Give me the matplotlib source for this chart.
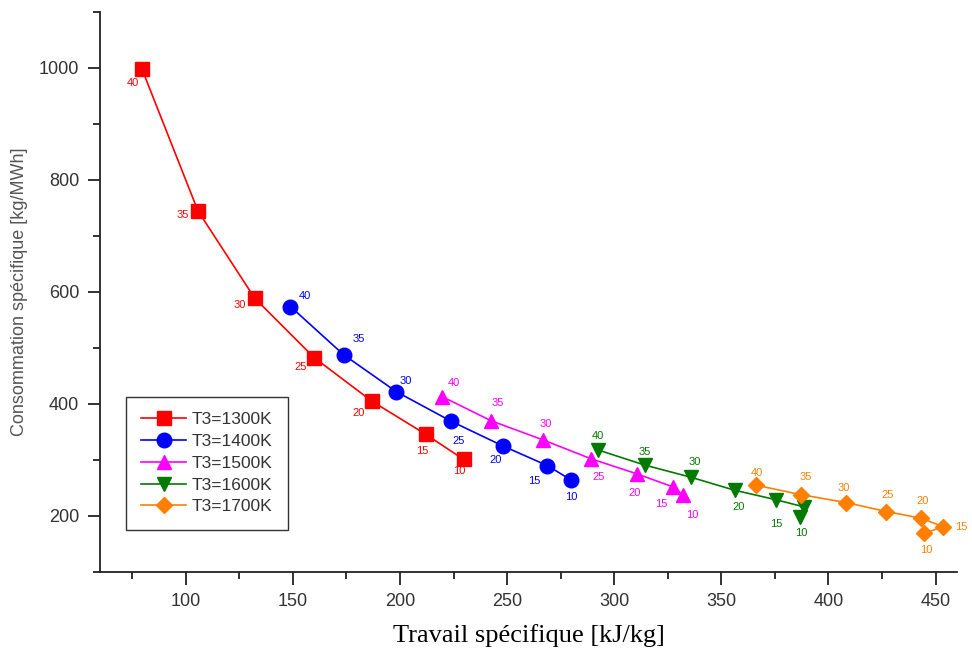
import matplotlib
matplotlib.use('Agg')
import matplotlib.pyplot as plt
from matplotlib.ticker import MultipleLocator

# data (x: kJ/kg, y: kg/MWh)
x_1300 = [79.6, 105.7, 132.2, 159.9, 186.9, 212.0, 229.7]
y_1300 = [998, 745, 589, 483, 405, 346, 301]
lab_1300 = ['40', '35', '30', '25', '20', '15', '10']

x_1400 = [148.9, 173.7, 198.3, 224.0, 248.1, 268.8, 280.0]
y_1400 = [574, 488, 422, 369, 325, 290, 264]
lab_1400 = ['40', '35', '30', '25', '20', '15', '10']

x_1500 = [219.8, 242.6, 266.7, 289.3, 310.8, 327.4, 332.0]
y_1500 = [413, 370, 336, 302, 275, 252, 238]
lab_1500 = ['40', '35', '30', '25', '20', '15', '10']

x_1600 = [292.4, 314.2, 336.0, 356.2, 375.6, 388.8, 386.5]
y_1600 = [318, 291, 269, 246, 229, 216, 199]
lab_1600 = ['40', '35', '30', '20', '15', '', '10']

x_1700 = [366.2, 387.3, 408.3, 427.0, 443.3, 453.4, 444.8]
y_1700 = [255, 238, 224, 208, 196, 181, 169]
lab_1700 = ['40', '35', '30', '25', '20', '15', '10']

# label offsets in pixels (dx right, dy down)
offs_1300 = [(-9, 14), (-15, 4), (-15, 7), (-13, 9), (-13, 12), (-3, 17), (-4, 12)]
offs_1400 = [(14, -11), (15, -16), (9, -11), (7, 20), (-7, 14), (-13, 15), (0, 17)]
offs_1500 = [(12, -14), (7, -18), (3, -16), (7, 18), (-3, 19), (-12, 17), (10, 20)]
offs_1600 = [(0, -14), (0, -13), (3, -15), (4, 17), (0, 24), (0, 0), (2, 16)]
offs_1700 = [(1, -12), (5, -18), (-2, -15), (1, -17), (1, -17), (18, 0), (2, 17)]

series = [
    ('T3=1300K', x_1300, y_1300, lab_1300, offs_1300, '#ff0000', 's', 9.5),
    ('T3=1400K', x_1400, y_1400, lab_1400, offs_1400, '#0000ff', 'o', 10.5),
    ('T3=1500K', x_1500, y_1500, lab_1500, offs_1500, '#ff00ff', '^', 10.5),
    ('T3=1600K', x_1600, y_1600, lab_1600, offs_1600, '#007a00', 'v', 10.5),
    ('T3=1700K', x_1700, y_1700, lab_1700, offs_1700, '#ff8000', 'D', 8.5),
]

plt.rcParams['font.family'] = ['Liberation Sans', 'DejaVu Sans']

fig = plt.figure(figsize=(9.72, 6.61), dpi=100)
ax = fig.add_axes([100 / 972, 89 / 661, 857 / 972, 560 / 661])

px = 0.72  # one pixel in points at 100 dpi
for name, xs, ys, labs, offs, col, mk, ms in series:
    ax.plot(xs, ys, color=col, marker=mk, markersize=ms, linewidth=1.2, label=name)
    for xv, yv, lb, (dx, dy) in zip(xs, ys, labs, offs):
        if lb:
            ax.annotate(lb, (xv, yv), xytext=(dx * px, -dy * px), textcoords='offset points',
                        ha='center', va='center', fontsize=8, color=col)

ax.set_xlim(60, 460)
ax.set_ylim(100, 1100)
ax.xaxis.set_minor_locator(MultipleLocator(25))
ax.yaxis.set_minor_locator(MultipleLocator(100))
ax.set_xticks(range(100, 451, 50))
ax.set_yticks(range(200, 1001, 200))

ax.spines['top'].set_visible(False)
ax.spines['right'].set_visible(False)
for s in ('left', 'bottom'):
    ax.spines[s].set_linewidth(1.3)
    ax.spines[s].set_color('#222222')
ax.tick_params(which='major', direction='out', length=9, width=1.3, labelsize=13,
               labelcolor='#333333', color='#222222', pad=6)
ax.tick_params(which='minor', direction='out', length=5, width=1.3, color='#222222')

ax.set_ylabel('Consommation spécifique [kg/MWh]', fontsize=13, color='#555555', labelpad=8)
ax.set_xlabel('Travail spécifique [kJ/kg]', fontsize=19, family=['Liberation Serif', 'DejaVu Serif'],
              labelpad=10)

leg = ax.legend(loc='lower left', bbox_to_anchor=(0.03, 0.075), borderaxespad=0, fontsize=12.5,
                frameon=True, fancybox=False, edgecolor='black', borderpad=0.9,
                labelspacing=0.38, handlelength=2.6, handletextpad=0.3)
leg.get_frame().set_linewidth(1.0)
for t in leg.get_texts():
    t.set_color('#333333')

fig.savefig('out.png', dpi=100)
